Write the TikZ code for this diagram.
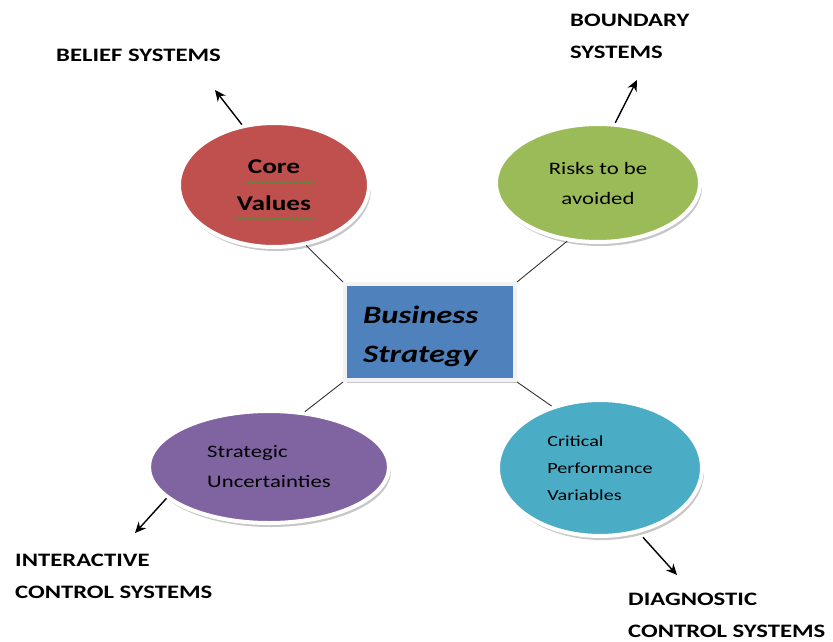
\documentclass[tikz,border=0pt]{standalone}
\usepackage{fontspec}
\setmainfont[FakeStretch=1.3]{Carlito}
\usetikzlibrary{shapes.geometric,shadows,arrows.meta,decorations.pathmorphing}
\definecolor{rouge}{HTML}{C0504D}
\definecolor{vert}{HTML}{9BBB59}
\definecolor{violet}{HTML}{8064A2}
\definecolor{turquoise}{HTML}{4BACC6}
\definecolor{bleu}{HTML}{4F81BD}
\definecolor{bord}{HTML}{F2F2F2}
\definecolor{souligne}{HTML}{3C9A3C}
\tikzset{
  bulle/.style={ellipse, draw=white, line width=4pt, inner sep=0pt,
    drop shadow={shadow xshift=2pt, shadow yshift=-4pt, opacity=.4, fill=black!55}},
  systeme/.style={anchor=base west, inner sep=0pt, align=left,
    font=\fontsize{19}{32}\selectfont\bfseries},
  fleche/.style={-{Stealth[length=11pt,width=10pt]}, line width=1.4pt},
  lien/.style={line width=0.9pt, draw=black!80},
  vague/.style={souligne, line width=0.7pt, decorate,
    decoration={snake, amplitude=0.9pt, segment length=3.5pt}}
}
\begin{document}
\begin{tikzpicture}[x=1pt, y=-1pt]
\useasboundingbox (0,0) rectangle (833,642);
%Strategie au centre
\node[draw=bord, line width=4pt, fill=bleu, minimum width=170, minimum height=96,
  drop shadow={shadow xshift=2pt, shadow yshift=-3pt, opacity=.4, fill=black!55}]
  (BS) at (430,332) {};
\node[anchor=base west, inner sep=0pt, align=left,
  font=\fontsize{25}{39}\selectfont\bfseries\itshape] (BStxt) at (363,362) {Business\\Strategy};
%Les quatre leviers
\node[bulle, fill=rouge, minimum width=190, minimum height=124, align=center,
  font=\fontsize{21}{37}\selectfont\bfseries] (CV) at (274,185) {Core\\Values};
\node[bulle, fill=vert, minimum width=204, minimum height=118, align=center,
  font=\fontsize{17.5}{30}\selectfont] (RA) at (598,183) {Risks to be\\avoided};
\node[bulle, fill=violet, minimum width=240, minimum height=112, align=left,
  font=\fontsize{17.5}{30}\selectfont] (SU) at (269,467) {Strategic\\Uncertainties};
\node[bulle, fill=turquoise, minimum width=204, minimum height=136, align=left,
  font=\fontsize{15.5}{27}\selectfont] (CPV) at (600,468) {Critical\\Performance\\Variables};
%Soulignement du correcteur
\draw[vague] (246,182) -- (315,182);
\draw[vague] (236,219) -- (315,219);
%Systemes de controle
\node[systeme] (BEL) at (56,62) {BELIEF SYSTEMS};
\node[systeme] (BOU) at (570,59) {BOUNDARY\\SYSTEMS};
\node[systeme] (INT) at (15,598) {INTERACTIVE\\CONTROL SYSTEMS};
\node[systeme] (DIA) at (628,637) {DIAGNOSTIC\\CONTROL SYSTEMS};
\coordinate (pBEL) at (215,90);
\coordinate (pBOU) at (637,80);
\coordinate (pINT) at (135,533);
\coordinate (pDIA) at (677,575);
%Aretes vers la strategie
\draw[lien] (CV.-62) -- (BS.north west);
\draw[lien] (RA.-118) -- (BS.north east);
\draw[lien] (SU.57) -- (BS.south west);
\draw[lien] (CPV.128) -- (BS.south east);
%Fleches vers les systemes
\draw[fleche] (CV.118) -- (pBEL);
\draw[fleche] (RA.74) -- (pBOU);
\draw[fleche] (SU.197) -- (pINT);
\draw[fleche, shorten <=6pt] (CPV.-59) -- (pDIA);
\end{tikzpicture}
\end{document}
